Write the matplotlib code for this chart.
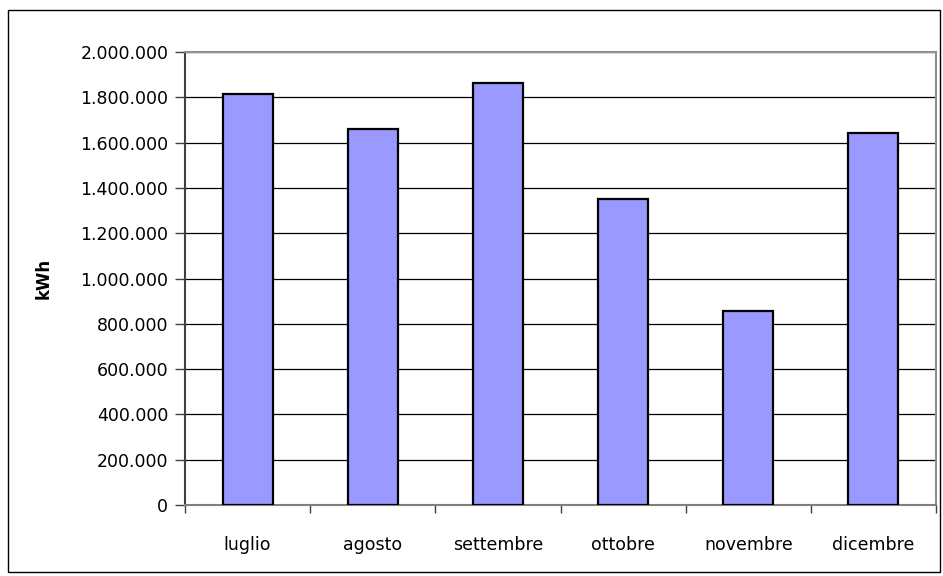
import numpy as np
import matplotlib.pyplot as plt
from matplotlib.ticker import FuncFormatter, MultipleLocator
from matplotlib.patches import Rectangle

# Consumi mensili
mesi = ['luglio', 'agosto', 'settembre', 'ottobre', 'novembre', 'dicembre']
consumi = [1815000, 1658000, 1865000, 1350000, 858000, 1643000]

plt.rcParams['font.family'] = 'DejaVu Sans'

fig = plt.figure(figsize=(9.43, 5.76), dpi=100)
ax = fig.add_axes([185/943, 1 - 505/576, (936 - 185)/943, (505 - 52)/576])

# Cornice esterna del grafico
fig.patches.append(Rectangle((8/943, 1 - 572/576), (940 - 8)/943, (572 - 10)/576,
                             transform=fig.transFigure, fill=False,
                             edgecolor='black', linewidth=1.0))

x = np.arange(len(mesi))
ax.bar(x, consumi, width=0.4, color='#9999ff', edgecolor='black', linewidth=1.6, zorder=3)

ax.set_xlim(-0.5, len(mesi) - 0.5)
ax.set_ylim(0, 2000000)
ax.yaxis.set_major_locator(MultipleLocator(200000))
ax.yaxis.set_major_formatter(FuncFormatter(lambda v, p: f'{int(v):,}'.replace(',', '.')))
ax.grid(axis='y', color='black', linewidth=0.9, zorder=1)

# Tacche dell'asse x ai bordi delle categorie
ax.set_xticks(np.arange(-0.5, len(mesi), 1.0))
ax.set_xticklabels([])
ax.set_xticks(x, minor=True)
ax.set_xticklabels(mesi, minor=True, fontsize=12.5)
ax.tick_params(axis='x', which='minor', length=0, pad=22)
ax.tick_params(axis='x', which='major', length=6, width=1, color='#404040', direction='out')
ax.tick_params(axis='y', length=7, width=1, color='#404040', direction='out', labelsize=12.5, pad=5)

for s in ['top', 'right']:
    ax.spines[s].set_color('#909090')
    ax.spines[s].set_linewidth(1.5)
ax.spines['left'].set_color('#404040')
ax.spines['left'].set_linewidth(1.5)
ax.spines['bottom'].set_color('#808080')
ax.spines['bottom'].set_linewidth(1.5)

ax.set_ylabel('kWh', fontsize=12, fontweight='bold')
ax.yaxis.set_label_coords((53 - 185) / (936 - 185), 0.5)

fig.savefig('out.png', dpi=100)
